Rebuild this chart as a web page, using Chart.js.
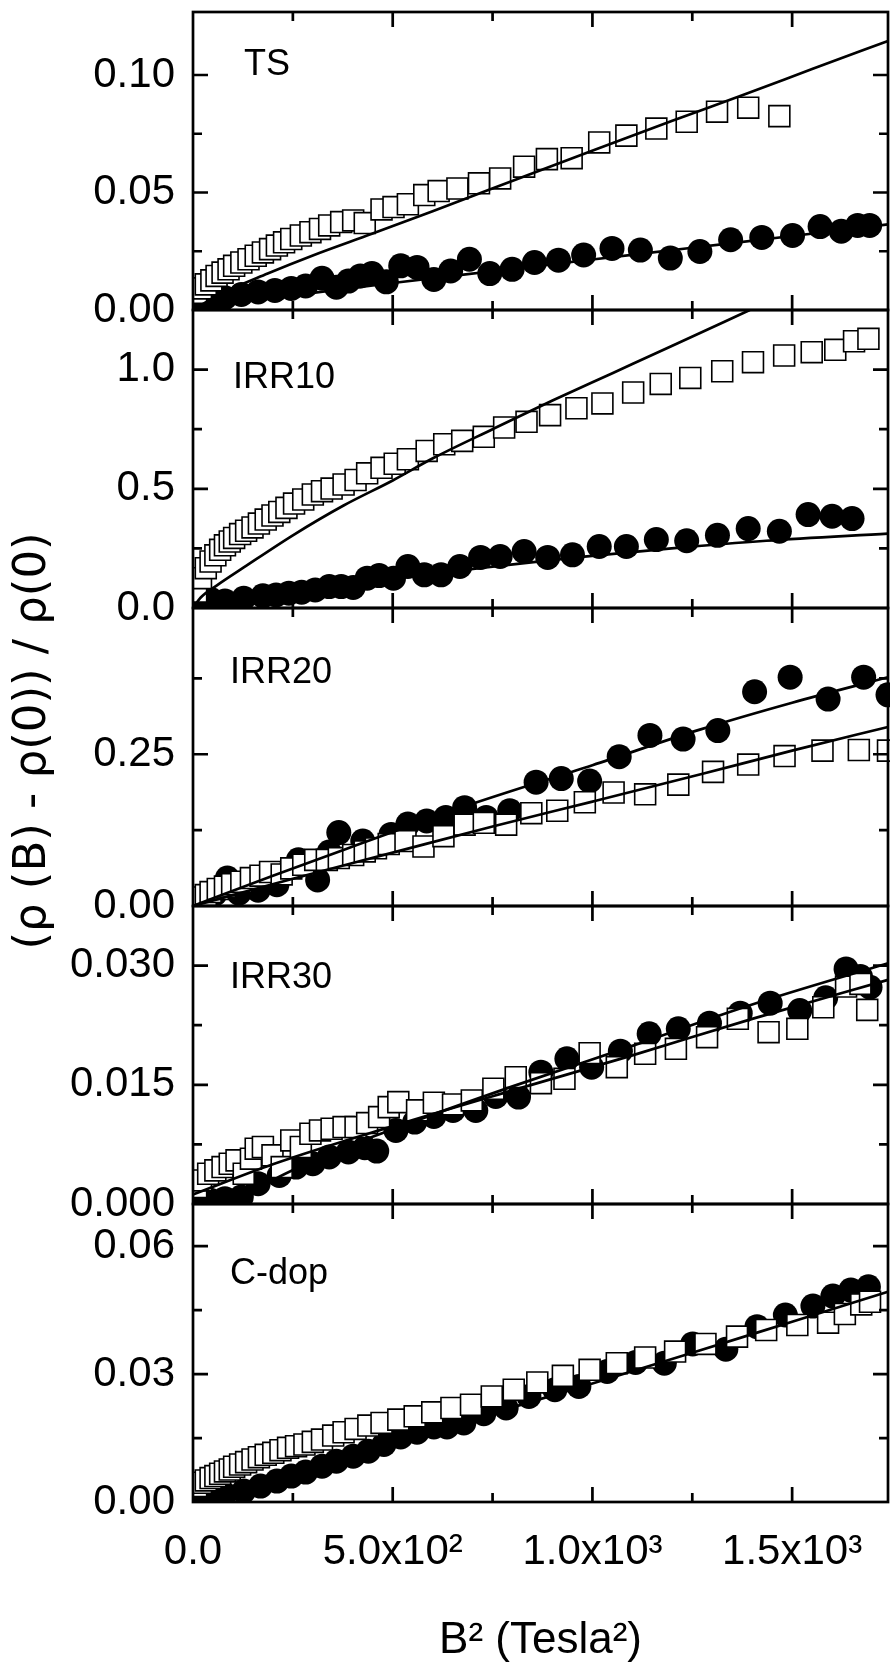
<!DOCTYPE html>
<html>
<head>
<meta charset="utf-8">
<title>Magnetoresistance vs B²</title>
<script src="https://cdn.jsdelivr.net/npm/chart.js@4.4.2/dist/chart.umd.min.js"></script>
<style>
  html, body { margin: 0; padding: 0; background: #fff; overflow: hidden; }
  #wrap { width: 890px; height: 1663px; }
  #mr-chart { display: block; }
</style>
</head>
<body>
<div id="wrap"><canvas id="mr-chart" width="890" height="1663"></canvas></div>
<script>
// ── X axis ─────────────────────────────────────────────────
const X_MAX = 1740;
const xTickValues = [0, 500, 1000, 1500];
const xTickLabels = ['0.0', '5.0x10²', '1.0x10³', '1.5x10³'];
const xMinorTicks = [250, 750, 1250];

// ── TS ─────────────────────────────────────────────────────
const tsTicks = [0, 0.05, 0.10];
const tsTickLabels = ['0.00', '0.05', '0.10'];
const tsMinor = [0.025, 0.075];
const tsSquares = [[8,0.0073],[20,0.0092],[32,0.0109],[46,0.0126],[59,0.0145],[74,0.0159],[89,0.0173],[103,0.0188],[121,0.0202],[139,0.0216],[157,0.0231],[175,0.0245],[193,0.0259],[210,0.0274],[228,0.0288],[246,0.0302],[270,0.0317],[294,0.0331],[318,0.0345],[341,0.0360],[371,0.0374],[401,0.0381],[430,0.0370],[472,0.0428],[502,0.0438],[538,0.0450],[579,0.0489],[615,0.0506],[662,0.0517],[716,0.0539],[769,0.0560],[829,0.0610],[886,0.0642],[948,0.0646],[1017,0.0713],[1085,0.0742],[1160,0.0772],[1236,0.0801],[1312,0.0844],[1390,0.0861],[1468,0.0825]];
const tsCircles = [[14,0.0030],[44,0.0037],[80,0.0052],[121,0.0066],[163,0.0077],[205,0.0083],[246,0.0092],[282,0.0102],[323,0.0135],[359,0.0097],[389,0.0123],[419,0.0145],[448,0.0155],[484,0.0120],[520,0.0188],[561,0.0181],[603,0.0130],[645,0.0166],[692,0.0216],[743,0.0155],[799,0.0173],[855,0.0202],[915,0.0212],[978,0.0234],[1049,0.0262],[1120,0.0255],[1195,0.0221],[1269,0.0249],[1346,0.0299],[1424,0.0309],[1501,0.0317],[1570,0.0355],[1623,0.0335],[1664,0.0360],[1694,0.0360]];
const tsSquareFit = [[0,0],[60,0.0060],[187,0.0155],[300,0.0232],[448,0.0324],[600,0.0420],[746,0.0515],[1001,0.0679],[1200,0.0805],[1370,0.0911],[1550,0.1025],[1740,0.1145]];
const tsCircleFit = [[0,0],[100,0.0028],[250,0.0062],[500,0.0115],[750,0.0165],[1000,0.0215],[1250,0.0265],[1500,0.0315],[1740,0.0364]];

// ── IRR10 ──────────────────────────────────────────────────
const irr10Ticks = [0, 0.5, 1.0];
const irr10TickLabels = ['0.0', '0.5', '1.0'];
const irr10Minor = [0.25, 0.75];
const irr10Squares = [[8,0.069],[20,0.125],[32,0.167],[44,0.195],[56,0.221],[68,0.244],[80,0.263],[92,0.279],[103,0.294],[118,0.310],[133,0.324],[149,0.338],[165,0.354],[182,0.371],[199,0.388],[216,0.403],[234,0.420],[253,0.438],[276,0.455],[300,0.476],[323,0.490],[347,0.501],[377,0.518],[407,0.537],[436,0.565],[472,0.588],[505,0.605],[538,0.624],[585,0.659],[629,0.687],[674,0.701],[728,0.718],[779,0.757],[835,0.781],[894,0.809],[960,0.838],[1025,0.858],[1102,0.904],[1171,0.940],[1245,0.965],[1325,0.993],[1402,1.031],[1480,1.059],[1549,1.073],[1608,1.083],[1655,1.119],[1691,1.129]];
const irr10Circles = [[8,0.020],[44,0.037],[80,0.029],[127,0.041],[175,0.051],[208,0.055],[240,0.062],[272,0.066],[306,0.076],[341,0.090],[371,0.090],[401,0.086],[436,0.125],[466,0.136],[502,0.125],[538,0.174],[579,0.139],[621,0.139],[668,0.174],[720,0.212],[769,0.216],[829,0.237],[888,0.212],[950,0.223],[1017,0.258],[1085,0.258],[1160,0.287],[1236,0.282],[1313,0.305],[1390,0.333],[1468,0.322],[1540,0.392],[1600,0.385],[1650,0.375]];
const irr10SquareFit = [[0,0],[20,0.045],[60,0.095],[127,0.170],[250,0.305],[377,0.430],[500,0.535],[603,0.630],[750,0.750],[900,0.870],[1050,0.985],[1200,1.100],[1394,1.250]];
const irr10CircleFit = [[0,0],[30,0.015],[100,0.040],[240,0.070],[484,0.120],[722,0.168],[960,0.212],[1198,0.250],[1435,0.282],[1740,0.312]];

// ── IRR20 ──────────────────────────────────────────────────
const irr20Ticks = [0, 0.25];
const irr20TickLabels = ['0.00', '0.25'];
const irr20Minor = [0.125, 0.375];
const irr20Squares = [[8,0.010],[20,0.014],[32,0.018],[44,0.023],[62,0.028],[80,0.032],[98,0.036],[121,0.040],[145,0.046],[169,0.050],[193,0.056],[222,0.052],[246,0.062],[276,0.068],[306,0.076],[335,0.076],[365,0.079],[401,0.084],[430,0.090],[458,0.095],[490,0.102],[532,0.107],[577,0.098],[627,0.115],[680,0.134],[728,0.137],[784,0.134],[847,0.153],[912,0.157],[981,0.171],[1053,0.187],[1132,0.184],[1215,0.200],[1302,0.221],[1390,0.233],[1481,0.247],[1576,0.256],[1667,0.257],[1740,0.256]];
const irr20Circles = [[8,0.005],[30,0.012],[55,0.020],[86,0.046],[115,0.021],[163,0.026],[210,0.035],[264,0.076],[312,0.043],[341,0.089],[365,0.121],[425,0.107],[496,0.118],[538,0.135],[585,0.140],[633,0.146],[680,0.162],[734,0.146],[793,0.157],[859,0.204],[922,0.210],[993,0.206],[1067,0.246],[1144,0.281],[1227,0.275],[1314,0.289],[1406,0.353],[1495,0.377],[1590,0.341],[1679,0.377],[1740,0.348]];
const irr20CircleFit = [[0,0],[200,0.050],[400,0.098],[680,0.164],[1000,0.232],[1271,0.291],[1500,0.335],[1740,0.377]];
const irr20SquareFit = [[0,0],[250,0.045],[500,0.088],[750,0.131],[1000,0.172],[1271,0.217],[1500,0.256],[1740,0.295]];

// ── IRR30 ──────────────────────────────────────────────────
const irr30Ticks = [0, 0.015, 0.030];
const irr30TickLabels = ['0.000', '0.015', '0.030'];
const irr30Minor = [0.0075, 0.0225];
const irr30Squares = [[8,0.00214],[20,0.00297],[38,0.00381],[56,0.00423],[74,0.00465],[92,0.00507],[109,0.00549],[127,0.00381],[145,0.00570],[157,0.00696],[175,0.00717],[199,0.00612],[222,0.00465],[246,0.00800],[270,0.00717],[294,0.00884],[318,0.00926],[347,0.00947],[377,0.00968],[407,0.00968],[436,0.01018],[466,0.01094],[490,0.01219],[514,0.01282],[561,0.01178],[603,0.01274],[651,0.01253],[698,0.01303],[752,0.01450],[808,0.01596],[871,0.01521],[930,0.01575],[993,0.01898],[1061,0.01722],[1132,0.01890],[1209,0.01953],[1287,0.02099],[1364,0.02330],[1441,0.02162],[1513,0.02204],[1578,0.02476],[1635,0.02736],[1671,0.02770],[1688,0.02443]];
const irr30Circles = [[8,0.00025],[44,0.00046],[80,0.00067],[121,0.00088],[163,0.00256],[216,0.00360],[258,0.00465],[300,0.00507],[341,0.00591],[389,0.00654],[430,0.00708],[460,0.00666],[508,0.00926],[555,0.01031],[603,0.01102],[651,0.01177],[708,0.01177],[758,0.01353],[815,0.01345],[871,0.01659],[936,0.01827],[998,0.01722],[1070,0.01923],[1142,0.02141],[1215,0.02204],[1293,0.02275],[1370,0.02401],[1445,0.02527],[1519,0.02434],[1584,0.02594],[1635,0.02958],[1671,0.02862],[1695,0.02728]];
const irr30CircleFit = [[100,0],[200,0.0030],[350,0.0065],[500,0.0094],[800,0.0148],[1100,0.0199],[1400,0.0251],[1740,0.0303]];
const irr30SquareFit = [[0,0.0012],[200,0.0050],[500,0.0098],[800,0.0143],[1100,0.0187],[1400,0.0233],[1740,0.0282]];

// ── C-dop ──────────────────────────────────────────────────
const cdopTicks = [0, 0.03, 0.06];
const cdopTickLabels = ['0.00', '0.03', '0.06'];
const cdopMinor = [0.015, 0.045];
const cdopSquares = [[8,0.00374],[20,0.00452],[32,0.00506],[44,0.00561],[56,0.00608],[68,0.00662],[80,0.00717],[92,0.00763],[103,0.00826],[118,0.00880],[133,0.00935],[149,0.00997],[165,0.01052],[182,0.01106],[201,0.01153],[219,0.01215],[238,0.01270],[258,0.01309],[279,0.01348],[300,0.01410],[323,0.01465],[351,0.01558],[377,0.01636],[407,0.01714],[439,0.01792],[472,0.01854],[514,0.01932],[555,0.02010],[599,0.02103],[647,0.02205],[696,0.02282],[748,0.02477],[803,0.02633],[862,0.02804],[926,0.02960],[993,0.03100],[1061,0.03256],[1132,0.03389],[1207,0.03529],[1283,0.03708],[1362,0.03879],[1435,0.04035],[1513,0.04152],[1590,0.04207],[1632,0.04409],[1673,0.04635],[1695,0.04697]];
const cdopCircles = [[14,0.00062],[44,0.00101],[80,0.00179],[127,0.00257],[169,0.00374],[210,0.00491],[246,0.00608],[282,0.00701],[323,0.00841],[359,0.00958],[401,0.01075],[439,0.01192],[478,0.01348],[520,0.01527],[561,0.01636],[603,0.01761],[636,0.01761],[678,0.01854],[728,0.02072],[784,0.02205],[841,0.02477],[906,0.02633],[966,0.02711],[1037,0.03061],[1108,0.03272],[1180,0.03256],[1251,0.03708],[1334,0.03583],[1412,0.04113],[1483,0.04386],[1552,0.04596],[1602,0.04830],[1647,0.04970],[1691,0.05048]];
const cdopFit = [[40,0],[250,0.0068],[500,0.0138],[750,0.0208],[1000,0.0278],[1250,0.0350],[1500,0.0423],[1740,0.0493]];

// ── Panels (top to bottom) ─────────────────────────────────
const panels = [
  { id: 'yTS',    name: 'TS',    max: 0.1268, ticks: tsTicks,    tickLabels: tsTickLabels,    minor: tsMinor,    squares: tsSquares,    circles: tsCircles,    fits: [tsSquareFit, tsCircleFit] },
  { id: 'yIRR10', name: 'IRR10', max: 1.25,   ticks: irr10Ticks, tickLabels: irr10TickLabels, minor: irr10Minor, squares: irr10Squares, circles: irr10Circles, fits: [irr10SquareFit, irr10CircleFit] },
  { id: 'yIRR20', name: 'IRR20', max: 0.491,  ticks: irr20Ticks, tickLabels: irr20TickLabels, minor: irr20Minor, squares: irr20Squares, circles: irr20Circles, fits: [irr20SquareFit, irr20CircleFit] },
  { id: 'yIRR30', name: 'IRR30', max: 0.0375, ticks: irr30Ticks, tickLabels: irr30TickLabels, minor: irr30Minor, squares: irr30Squares, circles: irr30Circles, fits: [irr30SquareFit, irr30CircleFit] },
  { id: 'yCdop',  name: 'C-dop', max: 0.0699, ticks: cdopTicks,  tickLabels: cdopTickLabels,  minor: cdopMinor,  squares: cdopSquares,  circles: cdopCircles,  fits: [cdopFit] },
];
const yTitle = '(ρ (B) - ρ(0)) / ρ(0)';
const xTitle = 'B² (Tesla²)';

// ── Layout / style ─────────────────────────────────────────
const AREA_TOP = 12, AXIS_W = 193, XAXIS_H = 161;
const FONT = "'Liberation Sans', Arial, sans-serif";
const labelPos = [[51, 63], [40, 78], [37, 75], [37, 82], [37, 80]];   // [dx, baseline dy] inside each panel
const Y_TITLE_POS = [33, 741];
const MAJOR = 15, MINOR = 9;

Chart.defaults.font.family = FONT;
Chart.defaults.color = '#000';

const toXY = pts => pts.map(([x, y]) => ({ x, y }));

// each y scale clips its own datasets to its panel; allow a hair of overflow on the right
const CLIP = { left: 0, right: 3, top: 0, bottom: 0 };

function buildDatasets() {
  const sets = [];
  panels.forEach(p => {
    p.fits.forEach(f => sets.push({
      data: toXY(f), yAxisID: p.id, clip: CLIP, order: 0,
      showLine: true, pointRadius: 0, borderColor: '#000', borderWidth: 2.7,
      cubicInterpolationMode: 'monotone', fill: false,
    }));
    sets.push({
      data: toXY(p.squares), yAxisID: p.id, clip: CLIP, order: 1,
      pointStyle: 'rect', pointRadius: 14.8, backgroundColor: '#fff', borderColor: '#000', borderWidth: 1.6,
    });
    sets.push({
      data: toXY(p.circles), yAxisID: p.id, clip: CLIP, order: 2,
      pointStyle: 'circle', pointRadius: 12.5, backgroundColor: '#000', borderColor: '#000', borderWidth: 0,
    });
  });
  return sets;
}

function buildScales() {
  const scales = {
    x: {
      type: 'linear', position: 'bottom', min: 0, max: X_MAX,
      grid: { display: false, drawTicks: false }, border: { display: false },
      afterBuildTicks: s => { s.ticks = xTickValues.map(v => ({ value: v })); },
      ticks: { padding: 25, autoSkip: false, maxRotation: 0, font: { size: 42 }, callback: (v, k) => xTickLabels[k] },
      title: { display: true, text: xTitle, font: { size: 44, lineHeight: 1 }, padding: { top: 0, bottom: 0 } },
      afterFit: s => { s.height = XAXIS_H; s.paddingLeft = 0; s.paddingRight = 0; },
    },
  };
  panels.forEach((p, i) => {
    scales[p.id] = {
      type: 'linear', position: 'left', stack: 'panels', stackWeight: 1, weight: panels.length - i,
      min: 0, max: p.max,
      grid: { display: false, drawTicks: false }, border: { display: false },
      afterBuildTicks: s => { s.ticks = p.ticks.map(v => ({ value: v })); },
      ticks: { padding: 18, autoSkip: false, font: { size: 42 }, callback: (v, k) => p.tickLabels[k] },
      afterFit: s => { s.width = AXIS_W; s.paddingTop = 0; s.paddingBottom = 0; },
    };
  });
  return scales;
}

// frames, inward ticks on all four sides, panel names, shared y title
const panelFrames = {
  id: 'panelFrames',
  afterDatasetsDraw(chart) {
    const { ctx, chartArea: a } = chart;
    const xs = chart.scales.x;
    ctx.save();
    ctx.strokeStyle = '#000';
    ctx.lineWidth = 2.7;
    panels.forEach((p, i) => {
      const ys = chart.scales[p.id];
      const top = ys.top, bottom = ys.bottom;
      ctx.strokeRect(a.left, top, a.right - a.left, bottom - top);
      ctx.beginPath();
      const xTick = (v, len) => {
        const x = xs.getPixelForValue(v);
        ctx.moveTo(x, bottom); ctx.lineTo(x, bottom - len);
        ctx.moveTo(x, top);    ctx.lineTo(x, top + len);
      };
      const yTick = (v, len) => {
        const y = ys.getPixelForValue(v);
        ctx.moveTo(a.left, y);  ctx.lineTo(a.left + len, y);
        ctx.moveTo(a.right, y); ctx.lineTo(a.right - len, y);
      };
      xTickValues.slice(1).forEach(v => xTick(v, MAJOR));
      xMinorTicks.forEach(v => xTick(v, MINOR));
      p.ticks.slice(1).forEach(v => yTick(v, MAJOR));
      p.minor.forEach(v => yTick(v, MINOR));
      ctx.stroke();

      ctx.fillStyle = '#000';
      ctx.font = `36px ${FONT}`;
      ctx.textBaseline = 'alphabetic';
      ctx.textAlign = 'left';
      ctx.fillText(p.name, a.left + labelPos[i][0], top + labelPos[i][1]);
    });

    ctx.translate(Y_TITLE_POS[0], Y_TITLE_POS[1]);
    ctx.rotate(-Math.PI / 2);
    ctx.font = "45px 'DejaVu Sans', sans-serif";
    ctx.textAlign = 'center';
    ctx.textBaseline = 'middle';
    ctx.fillText(yTitle, 0, 0);
    ctx.restore();
  },
};

new Chart(document.getElementById('mr-chart'), {
  type: 'scatter',
  data: { datasets: buildDatasets() },
  options: {
    responsive: false,
    maintainAspectRatio: false,
    animation: false,
    events: [],
    layout: { autoPadding: false, padding: { top: AREA_TOP, right: 2, bottom: 0, left: 0 } },
    plugins: { legend: { display: false }, tooltip: { enabled: false } },
    scales: buildScales(),
  },
  plugins: [panelFrames],
});
</script>
</body>
</html>
